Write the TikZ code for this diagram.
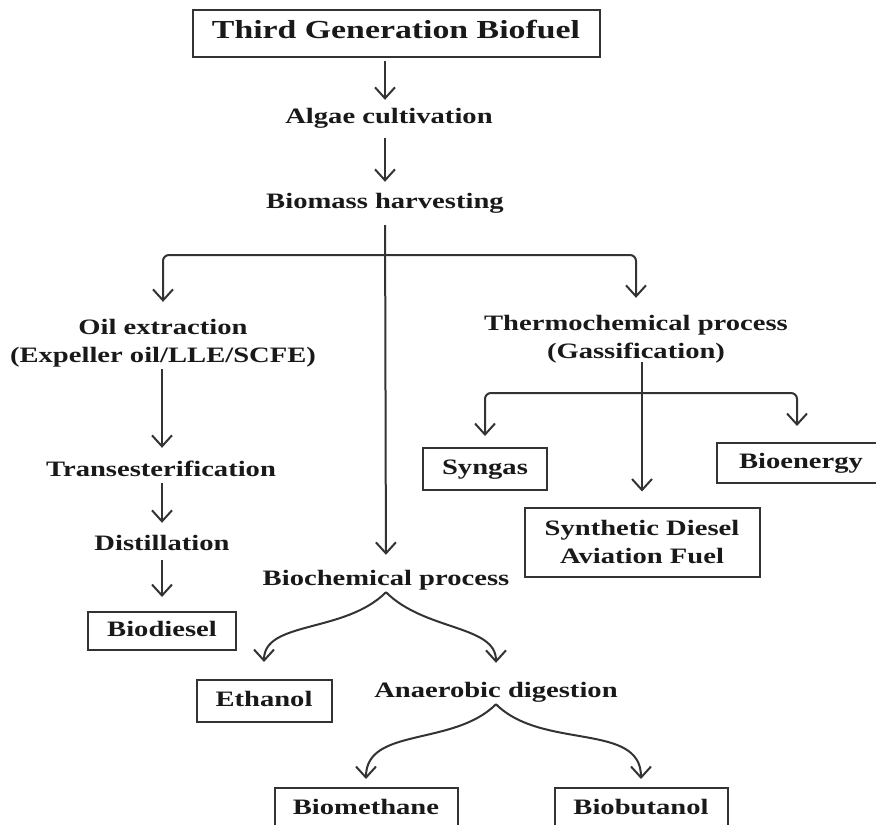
\documentclass[tikz,border=0pt]{standalone}
\usepackage{fontspec}
\setmainfont{Liberation Serif}[FakeStretch=1.3]
\usetikzlibrary{arrows.meta}
\tikzset{
  txt/.style={font=\bfseries\fontsize{22}{28}\selectfont, text=black!90, inner sep=2pt, align=center},
  lbl/.style={txt, text height=15pt, text depth=5pt},
  bx/.style={draw=black!80, line width=2pt},
  arr/.style={-{Straight Barb[length=11pt,width=20pt]}, line width=2pt, draw=black!80},
}

\begin{document}
\begin{tikzpicture}[x=1pt,y=1pt]
   \useasboundingbox (0,0) rectangle (876,-825);
   \clip (0,0) rectangle (876,-825);
   % main column
   \node[lbl,bx,minimum width=407pt,minimum height=47pt,font=\bfseries\fontsize{26}{30}\selectfont] (tgb) at (396,-33) {Third Generation Biofuel};
   \node[lbl] (algae) at (389,-118) {Algae cultivation};
   \node[lbl] (harv) at (385,-203) {Biomass harvesting};
   \draw[arr,shorten <=3pt,shorten >=6pt] (tgb.south -| harv) -- (algae.north -| harv);
   \draw[arr,shorten <=8pt,shorten >=9pt] (algae.south -| harv) -- (harv.north);
   % left branch
   \node[txt] (oil) at (163,-343) {Oil extraction\\(Expeller oil/LLE/SCFE)};
   \node[lbl] (trans) at (161,-471) {Transesterification};
   \node[lbl] (dist) at (162,-545) {Distillation};
   \node[lbl,bx,minimum width=148pt,minimum height=38pt] (biodsl) at (162,-631) {Biodiesel};
   \draw[arr,shorten >=11pt] (oil.south -| dist) -- (trans.north -| dist);
   \draw[arr,shorten >=10pt] (trans.south -| dist) -- (dist);
   \draw[arr,shorten <=3pt,shorten >=14pt] (dist) -- (biodsl);
   % right branch
   \node[txt] (thermo) at (636,-339) {Thermochemical process\\(Gassification)};
   \node[lbl,bx,minimum width=124pt,minimum height=42pt] (syngas) at (485,-469) {Syngas};
   \node[lbl,bx,minimum width=168pt,minimum height=40pt] (bioen) at (801,-463) {Bioenergy};
   \node[txt,bx,minimum width=235pt,minimum height=69pt] (synth) at (642,-542) {Synthetic Diesel\\Aviation Fuel};
   \coordinate (split2) at (640,-393);
   \draw[arr,shorten <=-3pt,shorten >=15pt] (thermo.south -| synth.north) -- (synth.north);
   \draw[arr,rounded corners=6pt,shorten >=11pt] (split2) -| (syngas);
   \draw[arr,rounded corners=6pt,shorten >=16pt] (split2) -| (bioen.north -| 797,0);
   % split below harvesting
   \coordinate (split1) at (385,-255);
   \draw[arr,rounded corners=6pt,shorten >=15pt] (split1) -| (oil);
   \draw[arr,rounded corners=6pt,shorten >=15pt] (split1) -| (thermo);
   % biochemical route
   \node[lbl] (biochem) at (386,-580) {Biochemical process};
   \node[lbl,bx,minimum width=135pt,minimum height=42pt] (ethanol) at (264,-701) {Ethanol};
   \node[lbl] (anaer) at (496,-692) {Anaerobic digestion};
   \node[lbl,bx,minimum width=183pt,minimum height=42pt] (biometh) at (366,-809) {Biomethane};
   \node[lbl,bx,minimum width=173pt,minimum height=42pt] (biobut) at (641,-809) {Biobutanol};
   \draw[arr,shorten <=10pt,shorten >=13pt] (harv) -- (biochem);
   \draw[arr,shorten >=17pt] (biochem.south) to[out=-135,in=90] (ethanol.north);
   \draw[arr,shorten >=17pt] (biochem.south) to[out=-45,in=90] (anaer.north);
   \draw[arr,shorten >=8pt] (anaer.south) to[out=-135,in=90] (biometh.north);
   \draw[arr,shorten >=8pt] (anaer.south) to[out=-45,in=90] (biobut.north);
\end{tikzpicture}
\end{document}
